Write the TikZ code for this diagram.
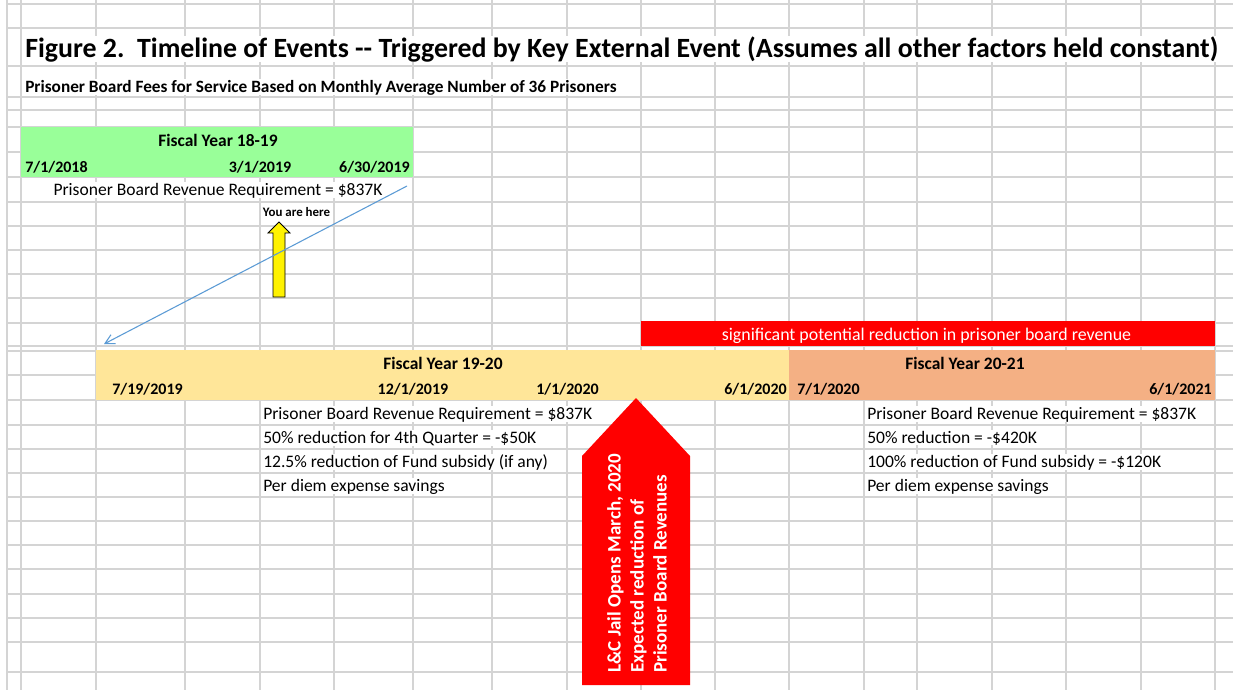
\documentclass[tikz,border=0pt]{standalone}
\usepackage{fontspec}
\setmainfont{Carlito}
\usepackage{xcolor}
\usepackage{tikz}
\usetikzlibrary{arrows.meta, positioning}

\definecolor{gridgray}{RGB}{212,212,212}
\definecolor{fygreen}{RGB}{153,255,153}
\definecolor{fysand}{RGB}{255,230,153}
\definecolor{fysalmon}{RGB}{244,176,132}
\definecolor{linkblue}{RGB}{91,155,213}

\begin{document}
\frenchspacing
\begin{tikzpicture}[x=0.75pt, y=-0.75pt,
  gridline/.style={draw=gridgray, line width=1.1pt},
  fybox/.style={rectangle, inner sep=0pt, minimum height=37.5pt},
  fyhead/.style={font=\fontsize{13.1}{15}\selectfont\bfseries, anchor=base, inner sep=0pt},
  datelbl/.style={font=\fontsize{12}{14}\selectfont\bfseries, inner sep=0pt},
  cellnote/.style={font=\fontsize{13.15}{15}\selectfont, fill=white, inner xsep=1.5pt, inner ysep=0.3pt, anchor=base west}]
\useasboundingbox (0,0) rectangle (1233,690);
\fill[white] (0,0) rectangle (1233,690);

% spreadsheet grid
\foreach \gx in {7,21,96,185,260,334,413,492,567,641,715,789,864,917,992,1066,1141,1215}
  \draw[gridline] (\gx,0) -- (\gx,690);
\foreach \gy in {4,28,66,97,110,127,152,177,202,226,250,274,298,323,346,351,375,400,425,449,473,497,521,545,569,594,618,642,672}
  \draw[gridline] (7,\gy) -- (1233,\gy);

% headings
\node[cellnote, font=\fontsize{20.9}{25}\selectfont\bfseries] (title) at (23,57)
   {Figure 2.~ Timeline of Events {-}{-} Triggered by Key External Event (Assumes all other factors held constant)};
\node[cellnote, font=\fontsize{12.95}{15}\selectfont\bfseries] (subtitle) at (23,92)
   {Prisoner Board Fees for Service Based on Monthly Average Number of 36 Prisoners};

% Fiscal Year 18-19
\node[fybox, fill=fygreen, minimum width=294pt] (fy1819) at (217,152) {};
\node[fyhead] (fy1819head) at (218,146) {Fiscal Year 18-19};
\node[datelbl, anchor=base west] (fy1819start) at (25,172) {7/1/2018};
\node[datelbl, anchor=base] (fy1819mid) at (260,172) {3/1/2019};
\node[datelbl, anchor=base east] (fy1819end) at (410,172) {6/30/2019};
\node[cellnote, anchor=base] (rev1819) at (218,195) {Prisoner Board Revenue Requirement = \$837K};

% you are here
\node[font=\fontsize{9.7}{11}\selectfont\bfseries, anchor=base, inner sep=0pt] (here) at (296.5,216) {You are here};
\draw[fill=yellow, draw=black, line width=0.6pt] (279,222) -- (290,233) -- (285,233) -- (285,297)
   -- (273,297) -- (273,233) -- (268,233) -- cycle;

% Fiscal Year 19-20
\node[fybox, fill=fysand, minimum width=519.75pt] (fy1920) at (442.5,375) {};
\node[fyhead] (fy1920head) at (443,369) {Fiscal Year 19-20};
\node[datelbl, anchor=base west] (fy1920start) at (112,394) {7/19/2019};
\node[datelbl, anchor=base] (fy1920dec) at (413,394) {12/1/2019};
\node[datelbl, anchor=base] (fy1920jan) at (567.5,394) {1/1/2020};
\node[datelbl, anchor=base east] (fy1920end) at (787,394) {6/1/2020};

% Fiscal Year 20-21
\node[fybox, fill=fysalmon, minimum width=319.5pt] (fy2021) at (1002,375) {};
\node[fyhead] (fy2021head) at (965,369) {Fiscal Year 20-21};
\node[datelbl, anchor=base west] (fy2021start) at (797,394) {7/1/2020};
\node[datelbl, anchor=base east] (fy2021end) at (1212,394) {6/1/2021};

% reduction bar
\node[rectangle, fill=red, inner sep=0pt, minimum width=430.5pt, minimum height=18.75pt] (redbar) at (928,333.5) {};
\node[font=\fontsize{13.4}{15}\selectfont, text=white, anchor=base, inner sep=0pt] (redbartext) at (926.5,340)
   {significant potential reduction in prisoner board revenue};

% notes under each year
\node[cellnote] (n1920a) at (261,419) {Prisoner Board Revenue Requirement = \$837K};
\node[cellnote] (n1920b) at (261,443) {50\% reduction for 4th Quarter = -\$50K};
\node[cellnote] (n1920c) at (261,467) {12.5\% reduction of Fund subsidy (if any)};
\node[cellnote] (n1920d) at (261,491) {Per diem expense savings};
\node[cellnote] (n2021a) at (865,419) {Prisoner Board Revenue Requirement = \$837K};
\node[cellnote] (n2021b) at (865,443) {50\% reduction = -\$420K};
\node[cellnote] (n2021c) at (865,467) {100\% reduction of Fund subsidy = -\$120K};
\node[cellnote] (n2021d) at (865,491) {Per diem expense savings};

% jail opening arrow
\fill[red] (636,398) -- (690,456) -- (690,685) -- (582,685) -- (582,456) -- cycle;
\node[rotate=90, anchor=west, align=left, text=white, font=\fontsize{14.3}{17.3}\selectfont\bfseries, inner sep=0pt] (jailnote)
   at (637,673) {L\&C Jail Opens March, 2020\\Expected reduction of\\Prisoner Board Revenues};

% link to next year
\coordinate (linkstart) at (407,186);
\coordinate (linkend) at (104,344);
\draw[linkblue, line width=0.8pt, -{Straight Barb[length=7pt, width=7.5pt]}] (linkstart) -- (linkend);
\end{tikzpicture}
\end{document}
